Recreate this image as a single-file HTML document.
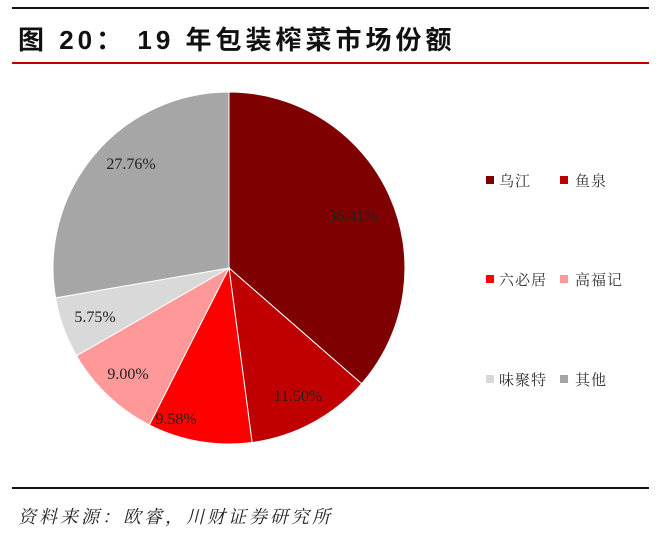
<!DOCTYPE html>
<html><head><meta charset="utf-8"><style>
body{margin:0;background:#fff;width:660px;height:536px;overflow:hidden;position:relative}
.t{position:absolute;left:18px;top:20px;font:bold 26px "Liberation Sans","Noto Sans CJK SC",sans-serif;color:#111;letter-spacing:4px;white-space:pre}
.src{position:absolute;left:18px;top:503px;font:italic 18px "Liberation Serif","Noto Serif CJK SC",serif;color:#222;letter-spacing:3px}
</style></head><body>
<div style="position:absolute;left:12px;top:7px;width:637px;height:2px;background:#111"></div>
<div class="t">图 20： 19 年包装榨菜市场份额</div>
<div style="position:absolute;left:12px;top:62px;width:637px;height:2px;background:#c00000"></div>
<svg width="660" height="536" style="position:absolute;left:0;top:0">
<g stroke="#fff" stroke-width="1">
<path d="M229,268 L229,92 A176,176 0 0 1 361.6,383.7 Z" fill="#7f0000"/>
<path d="M229,268 L361.6,383.7 A176,176 0 0 1 252.1,442.5 Z" fill="#c00000"/>
<path d="M229,268 L252.1,442.5 A176,176 0 0 1 149.3,424.9 Z" fill="#ff0000"/>
<path d="M229,268 L149.3,424.9 A176,176 0 0 1 76.5,355.8 Z" fill="#ff9999"/>
<path d="M229,268 L76.5,355.8 A176,176 0 0 1 55.6,297.9 Z" fill="#d9d9d9"/>
<path d="M229,268 L55.6,297.9 A176,176 0 0 1 229,92 Z" fill="#a6a6a6"/>
</g>
<g font-family="Liberation Serif,serif" font-size="16" fill="#222" text-anchor="middle">
<text x="353" y="221">36.41%</text>
<text x="298" y="401">11.50%</text>
<text x="176" y="424">9.58%</text>
<text x="128" y="379">9.00%</text>
<text x="95" y="322">5.75%</text>
<text x="131" y="169">27.76%</text>
</g>
<g font-family="Liberation Serif,Noto Serif CJK SC,serif" font-size="15" fill="#333" letter-spacing="1">
<rect x="486" y="176" width="8" height="8" fill="#7f0000"/><text x="499" y="186">乌江</text>
<rect x="560" y="176" width="8" height="8" fill="#c00000"/><text x="575" y="186">鱼泉</text>
<rect x="486" y="275" width="8" height="8" fill="#ff0000"/><text x="499" y="285">六必居</text>
<rect x="560" y="275" width="8" height="8" fill="#ff9999"/><text x="575" y="285">高福记</text>
<rect x="486" y="375" width="8" height="8" fill="#d9d9d9"/><text x="499" y="385">味聚特</text>
<rect x="560" y="375" width="8" height="8" fill="#a6a6a6"/><text x="575" y="385">其他</text>
</g>
</svg>
<div style="position:absolute;left:12px;top:487px;width:637px;height:2px;background:#111"></div>
<div class="src">资料来源：欧睿，川财证券研究所</div>
</body></html>
